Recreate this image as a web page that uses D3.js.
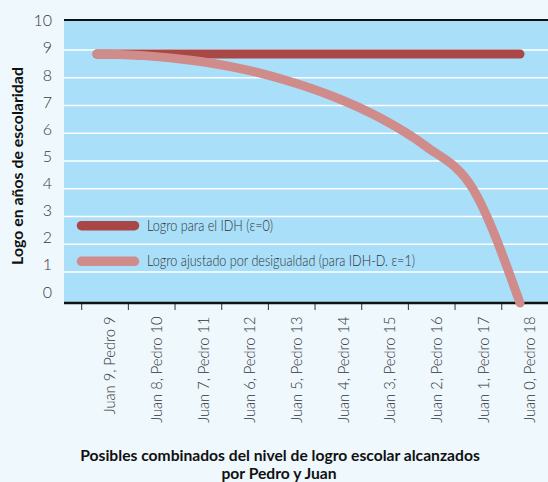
<!DOCTYPE html>
<html><head><meta charset="utf-8">
<script src="https://cdn.jsdelivr.net/npm/d3@7"></script>
<style>
html,body{margin:0;padding:0;background:#eef8fd;}
svg{display:block;}
.lt{font-family:Lato,"Open Sans",sans-serif;font-weight:300;fill:#333;}
.bd{font-family:Lato,"Open Sans",sans-serif;font-weight:700;fill:#111;}
</style></head>
<body>
<script>
const categories = ["Juan 9, Pedro 9","Juan 8, Pedro 10","Juan 7, Pedro 11","Juan 6, Pedro 12","Juan 5, Pedro 13","Juan 4, Pedro 14","Juan 3, Pedro 15","Juan 2, Pedro 16","Juan 1, Pedro 17","Juan 0, Pedro 18"];
const idhValues = [9,9,9,9,9,9,9,9,9,9];
const idhdValues = [9,8.94,8.77,8.49,8.06,7.48,6.71,5.66,4.12,0];
const yTicks = [0,1,2,3,4,5,6,7,8,9,10];
const gridValues = [1,2,3,4,5,6,7,8,9];
const seriesNames = ["Logro para el IDH (\u03b5=0)","Logro ajustado por desigualdad (para IDH-D. \u03b5=1)"];
const colors = ["#a94646","#d08b8b"];

const W=548,H=482;
const plot={left:64,right:548,top:20,bottom:303};
const svg=d3.select("body").append("svg").attr("width",W).attr("height",H);

function fit(sel, refNode, target, base){
  const w=refNode.getComputedTextLength();
  const fs=base*target/w;
  sel.attr("font-size",fs);
  return fs;
}
// condense: keep widths at fitted size, enlarge glyph height
function condense(sel, size){
  sel.each(function(){
    const w=this.getComputedTextLength();
    d3.select(this).attr("textLength",w).attr("lengthAdjust","spacingAndGlyphs").attr("font-size",size);
  });
}

const yData=d3.scaleLinear().domain([0,10]).range([303,26.3]);
const yGrid=d3.scaleLinear().domain([0,10]).range([299.7,22.2]);
const yLab=d3.scaleLinear().domain([0,10]).range([292,20.7]);
const xBand=d3.scaleBand().domain(categories).range([81.7,81.7+46.67*10]).padding(0);
const xPt=d3.scaleLinear().domain([0,categories.length-1]).range([97,520]);

svg.append("rect").attr("x",plot.left).attr("y",plot.top).attr("width",plot.right-plot.left).attr("height",plot.bottom-plot.top).attr("fill","#a9dff9");

svg.append("g").selectAll("line").data(gridValues).join("line")
  .attr("x1",plot.left).attr("x2",plot.right)
  .attr("y1",d=>yGrid(d)).attr("y2",d=>yGrid(d))
  .attr("stroke","#fff").attr("stroke-width",1.5);

svg.append("line").attr("x1",plot.left).attr("x2",plot.right).attr("y1",20).attr("y2",20).attr("stroke","#111").attr("stroke-width",2);

svg.append("g").selectAll("text").data(yTicks).join("text").attr("class","lt")
  .attr("x",52).attr("y",d=>yLab(d)).attr("dy","0.35em").attr("text-anchor","end")
  .attr("font-size",16).style("fill","#3a3a3a").text(d=>d);

// x axis
svg.append("g").selectAll("line").data(categories).join("line")
  .attr("x1",d=>xBand(d)).attr("x2",d=>xBand(d)).attr("y1",303).attr("y2",310)
  .attr("stroke","#333").attr("stroke-width",1);
svg.append("line").attr("x1",plot.left).attr("x2",plot.right).attr("y1",303).attr("y2",303).attr("stroke","#111").attr("stroke-width",2.5);
const xl=svg.append("g").selectAll("text").data(categories).join("text").attr("class","lt")
  .attr("transform",d=>`translate(${xBand(d)+28.3},316.5) rotate(-90)`)
  .attr("text-anchor","end").attr("dy","0.35em").attr("font-size",14).text(d=>d);
fit(xl, xl.nodes()[1], 106.5, 14);
condense(xl, 14.8);

// lines
const line=d3.line().x((d,i)=>xPt(i)).y(d=>yData(d)).curve(d3.curveMonotoneX);
svg.append("path").datum(idhValues).attr("d",line).attr("fill","none").attr("stroke",colors[0]).attr("stroke-width",9).attr("stroke-linecap","round");
svg.append("path").datum(idhdValues).attr("d",line).attr("fill","none").attr("stroke",colors[1]).attr("stroke-width",9).attr("stroke-linecap","round");

// legend
const lg=svg.append("g").selectAll("g").data(seriesNames).join("g")
  .attr("transform",(d,i)=>`translate(0,${225.7+i*35.6})`);
lg.append("line").attr("x1",81.5).attr("x2",134.5).attr("y1",0).attr("y2",0)
  .attr("stroke",(d,i)=>colors[i]).attr("stroke-width",9.5).attr("stroke-linecap","round");
const lt=lg.append("text").attr("class","lt").attr("x",147).attr("dy","0.35em").attr("font-size",14).text(d=>d);
fit(lt, lt.nodes()[1], 268, 14);
condense(lt, 14.8);

// titles
const yt=svg.append("text").attr("class","bd").attr("transform","translate(17,166) rotate(-90)")
  .attr("text-anchor","middle").attr("dy","0.35em").attr("font-size",13.5).text("Logo en años de escolaridad");
fit(yt, yt.node(), 198, 13.5);
const t1=svg.append("text").attr("class","bd").attr("x",280).attr("y",461).attr("text-anchor","middle").attr("font-size",13.5).text("Posibles combinados del nivel de logro escolar alcanzados");
const t2=svg.append("text").attr("class","bd").attr("x",279).attr("y",479).attr("text-anchor","middle").attr("font-size",13.5).text("por Pedro y Juan");
const fs=fit(t1, t1.node(), 400, 13.5);
t2.attr("font-size",fs);
</script>
</body></html>
